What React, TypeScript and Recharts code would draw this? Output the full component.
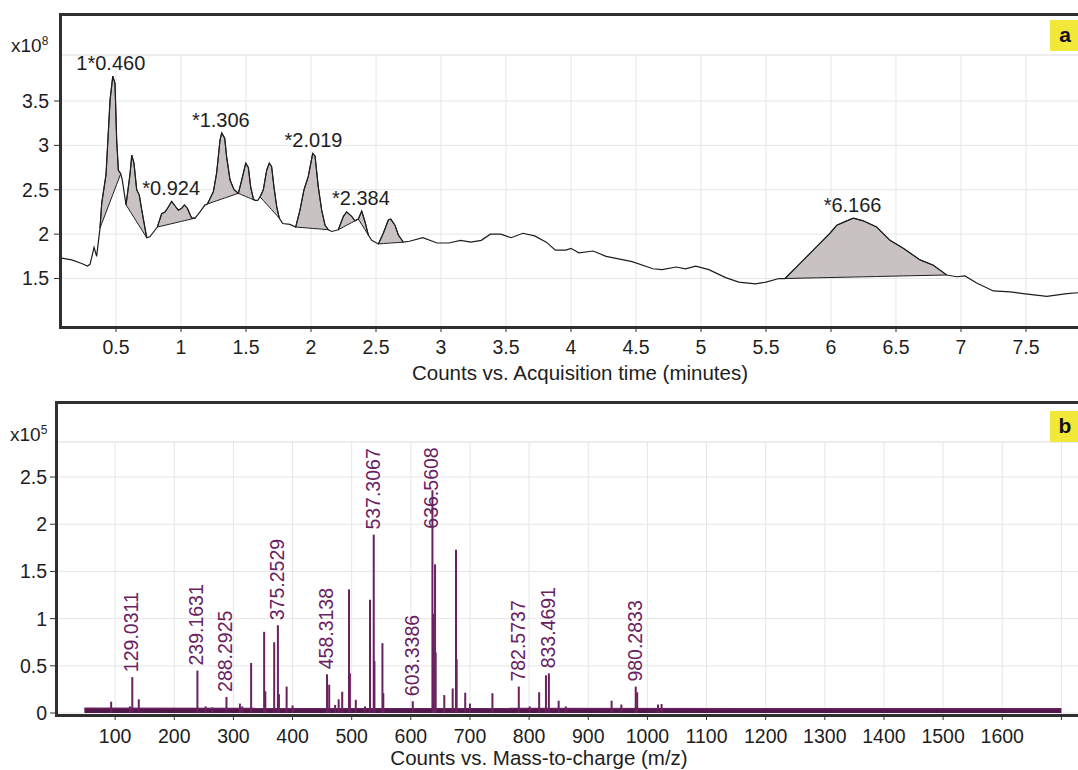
import React from "react"
import {
  ComposedChart,
  Line,
  Area,
  Bar,
  Scatter,
  XAxis,
  YAxis,
  CartesianGrid,
  ReferenceLine,
} from "recharts"

const FONT = '"Liberation Sans", Arial, Helvetica, sans-serif'
const INK = "#1e1e1e"
const FRAME = "#2f2f2f"
const GRID = "#e6e6e6"
const PEAK_FILL = "#c8c2c2"
const PURPLE = "#6a215f"
const NOISE = "#521849"

// (a) total ion chromatogram, time in minutes, counts x10^8
const ticTime = [
  0.069, 0.082, 0.159, 0.236, 0.28, 0.3, 0.331, 0.351, 0.377, 0.39, 0.423, 0.454, 0.475, 0.492, 0.505,
  0.518, 0.536, 0.548, 0.577, 0.608, 0.621, 0.638, 0.659, 0.679, 0.698, 0.736, 0.76, 0.818, 0.851,
  0.877, 0.9, 0.928, 0.953, 0.979, 1.005, 1.026, 1.049, 1.082, 1.108, 1.146, 1.185, 1.203, 1.249,
  1.274, 1.3, 1.313, 1.336, 1.351, 1.377, 1.408, 1.441, 1.467, 1.498, 1.518, 1.536, 1.556, 1.569,
  1.59, 1.608, 1.633, 1.659, 1.679, 1.697, 1.715, 1.736, 1.756, 1.782, 1.838, 1.882, 1.915, 1.946,
  1.979, 2.013, 2.031, 2.056, 2.082, 2.108, 2.133, 2.159, 2.21, 2.249, 2.274, 2.313, 2.338, 2.364,
  2.39, 2.415, 2.441, 2.467, 2.518, 2.556, 2.595, 2.613, 2.646, 2.672, 2.71, 2.757, 2.86, 2.97, 3.06,
  3.15, 3.23, 3.31, 3.38, 3.46, 3.54, 3.63, 3.72, 3.81, 3.88, 3.96, 4.0, 4.06, 4.17, 4.27, 4.47, 4.63,
  4.7, 4.81, 4.88, 4.96, 5.06, 5.19, 5.29, 5.42, 5.5, 5.6, 5.646, 5.762, 5.89, 5.992, 6.044, 6.121,
  6.172, 6.248, 6.351, 6.454, 6.556, 6.685, 6.787, 6.89, 6.967, 7.031, 7.12, 7.249, 7.377, 7.479,
  7.66, 7.815, 7.9, 8.077,
]
const ticCounts = [
  1.73, 1.73, 1.71, 1.67, 1.64, 1.66, 1.85, 1.75, 2.07, 2.35, 2.67, 3.51, 3.78, 3.7, 3.06,
  2.72, 2.68, 2.61, 2.33, 2.68, 2.89, 2.8, 2.5, 2.44, 2.27, 1.96, 1.97, 2.08, 2.23,
  2.25, 2.3, 2.37, 2.32, 2.27, 2.29, 2.33, 2.29, 2.18, 2.18, 2.25, 2.33, 2.34, 2.48,
  2.69, 3.06, 3.14, 3.08, 2.87, 2.61, 2.5, 2.46, 2.61, 2.8, 2.75, 2.53, 2.4, 2.38,
  2.38, 2.42, 2.5, 2.72, 2.8, 2.76, 2.53, 2.31, 2.18, 2.12, 2.11, 2.08, 2.27, 2.5,
  2.65, 2.91, 2.88, 2.53, 2.27, 2.1, 2.05, 2.03, 2.05, 2.2, 2.25, 2.2, 2.15, 2.17,
  2.26, 2.14, 1.99, 1.93, 1.89, 2.01, 2.16, 2.17, 2.1, 1.99, 1.91, 1.92, 1.96, 1.9, 1.9,
  1.93, 1.91, 1.93, 2.0, 2.0, 1.96, 2.01, 1.98, 1.91, 1.82, 1.82, 1.84, 1.79, 1.81, 1.75, 1.69, 1.61,
  1.6, 1.63, 1.61, 1.64, 1.6, 1.51, 1.46, 1.44, 1.46, 1.5, 1.5, 1.67, 1.86, 2.01, 2.1, 2.15,
  2.18, 2.15, 2.08, 1.93, 1.84, 1.71, 1.65, 1.54, 1.52, 1.53, 1.45, 1.36, 1.35, 1.33,
  1.3, 1.33, 1.34, 1.36,
]

// integrated (shaded) regions: start and end time of each
const peakStart = [0.377, 0.577, 0.818, 1.203, 1.441, 1.608, 1.882, 2.21, 2.364, 2.518, 5.646]
const peakEnd = [0.536, 0.736, 1.108, 1.441, 1.569, 1.756, 2.133, 2.364, 2.441, 2.71, 6.89]

const ticLabels = ["1*0.460", "*0.924", "*1.306", "*2.019", "*2.384", "*6.166"]
const ticLabelTime = [0.46, 0.924, 1.306, 2.019, 2.384, 6.166]

const timeTicks = [0.5, 1, 1.5, 2, 2.5, 3, 3.5, 4, 4.5, 5, 5.5, 6, 6.5, 7, 7.5]
const countTicks = [1.5, 2, 2.5, 3, 3.5]
const timeDomain = [0.069, 8.077]
const countDomain = [0.954, 4.018]

// (b) mass spectrum, m/z and counts x10^5
const specMz = [
  93.3, 125, 129.0311, 140, 239.1631, 253, 264.5, 288.2925, 311, 315, 330, 352, 354, 369, 375.2529,
  377, 390, 400, 458.3138, 462, 472, 478, 484, 495.5, 497, 507, 522.6, 531, 537.3067, 538.5, 552,
  553.5, 603.3386, 636.5608, 637.5, 641, 642, 656.6, 670.8, 676.4, 677.5, 692, 700, 738, 782.5737,
  801, 817, 828.5, 833.4691, 850, 862, 939.5, 956, 980.2833, 982.8, 1018, 1024,
]
const specInt = [
  0.12, 0.07, 0.38, 0.145, 0.45, 0.07, 0.06, 0.17, 0.1, 0.07, 0.53, 0.86, 0.23, 0.75, 0.93,
  0.2, 0.28, 0.08, 0.41, 0.3, 0.085, 0.145, 0.225, 1.31, 0.42, 0.14, 0.07, 1.2, 1.89, 0.55, 0.74,
  0.21, 0.125, 2.36, 1.05, 1.575, 0.64, 0.19, 0.26, 1.73, 0.57, 0.215, 0.1, 0.21, 0.28,
  0.07, 0.22, 0.4, 0.42, 0.13, 0.07, 0.13, 0.09, 0.28, 0.22, 0.09, 0.095,
]
const labeledMz = [
  129.0311, 239.1631, 288.2925, 375.2529, 458.3138, 537.3067, 603.3386, 636.5608, 782.5737,
  833.4691, 980.2833,
]
// baseline noise band
const noiseMz = [48, 1700]
const noiseLevel = [0.05, 0.045]

const mzTicks = [100, 200, 300, 400, 500, 600, 700, 800, 900, 1000, 1100, 1200, 1300, 1400, 1500, 1600, 1700]
const intTicks = [0, 0.5, 1, 1.5, 2, 2.5]
const mzDomain = [0, 1767]
const intDomain = [-0.021, 2.871]
const LABEL_CAP = 1.9

const countAt = (t: number) => ticCounts[ticTime.indexOf(t)]

const ticData = ticTime.map((t, i) => {
  const row: Record<string, number | number[]> = { t, counts: ticCounts[i] }
  peakStart.forEach((s, k) => {
    const e = peakEnd[k]
    if (t < s || t > e) return
    const b0 = countAt(s)
    const b1 = countAt(e)
    row[`peak${k}`] = [b0 + ((b1 - b0) * (t - s)) / (e - s), ticCounts[i]]
  })
  return row
})

const ticLabelData = ticLabels.map((text, i) => {
  const at = ticLabelTime[i]
  const top = Math.max(...ticTime.map((t, j) => (Math.abs(t - at) <= 0.03 ? ticCounts[j] : -Infinity)))
  return { t: at, top, text }
})

const specData = [
  ...noiseMz.map((mz, i) => ({ mz, noise: noiseLevel[i] })),
  ...specMz.map((mz, i) => ({ mz, intensity: specInt[i] })),
].sort((a, b) => a.mz - b.mz)

const specLabelData = labeledMz.map((mz) => ({
  mz,
  at: Math.min(specInt[specMz.indexOf(mz)], LABEL_CAP),
}))

const tickStyle = { fill: INK, fontSize: 19.5, fontFamily: FONT }

// a 2px stick centred on the bar position, whatever width Recharts picked
function Stick(p: any) {
  if (!Number.isFinite(p.height) || p.height <= 0) return null
  return <rect x={p.x + p.width / 2 - 1} y={p.y} width={2} height={p.height} fill={PURPLE} />
}

function PanelTag({ letter, top }: { letter: string; top: number }) {
  return (
    <div
      style={{
        position: "absolute",
        left: 1050,
        top,
        width: 30,
        height: 31,
        background: "#f1e83a",
        fontFamily: FONT,
        fontWeight: "bold",
        fontSize: 21,
        lineHeight: "29px",
        textAlign: "center",
        color: "#111",
      }}
    >
      {letter}
    </div>
  )
}

function Multiplier({ exp, left, top }: { exp: string; left: number; top: number }) {
  return (
    <div style={{ position: "absolute", left, top, fontFamily: FONT, fontSize: 19, lineHeight: "19px", color: INK }}>
      x10<span style={{ fontSize: 12, verticalAlign: "7px" }}>{exp}</span>
    </div>
  )
}

function Frame({ left, top, height }: { left: number; top: number; height: number }) {
  return (
    <div
      style={{
        position: "absolute",
        left,
        top,
        width: 1101 - left,
        height,
        boxSizing: "border-box",
        borderTop: `3px solid ${FRAME}`,
        borderLeft: `3px solid ${FRAME}`,
        borderBottom: `3px solid ${FRAME}`,
        pointerEvents: "none",
      }}
    />
  )
}

function AxisTitle({ text, center, top }: { text: string; center: number; top: number }) {
  return (
    <div
      style={{
        position: "absolute",
        left: center - 300,
        top,
        width: 600,
        textAlign: "center",
        fontFamily: FONT,
        fontSize: 20.5,
        lineHeight: "20px",
        color: INK,
      }}
    >
      {text}
    </div>
  )
}

export default function App() {
  return (
    <div
      style={{
        position: "absolute",
        left: 0,
        top: 0,
        width: 1078,
        height: 770,
        overflow: "hidden",
        background: "#fff",
      }}
    >
      <div style={{ position: "absolute", left: 0, top: 0 }}>
        <ComposedChart width={1101} height={390} data={ticData} margin={{ top: 55, right: 0, bottom: 23, left: 0 }}>
          <CartesianGrid stroke={GRID} />
          <ReferenceLine y={countDomain[1]} stroke={GRID} />
          <XAxis
            type="number"
            dataKey="t"
            domain={timeDomain}
            ticks={timeTicks}
            interval={0}
            allowDataOverflow
            height={40}
            axisLine={false}
            tickSize={5}
            tickMargin={8}
            tickLine={{ stroke: FRAME }}
            tick={tickStyle}
          />
          <YAxis
            type="number"
            domain={countDomain}
            ticks={countTicks}
            interval={0}
            allowDataOverflow
            width={60}
            axisLine={false}
            tickSize={6}
            tickMargin={5}
            tickLine={{ stroke: FRAME }}
            tick={tickStyle}
          />
          {peakStart.map((_, k) => (
            <Area
              key={k}
              type="linear"
              dataKey={`peak${k}`}
              stroke={INK}
              strokeWidth={1}
              fill={PEAK_FILL}
              fillOpacity={1}
              isAnimationActive={false}
            />
          ))}
          <Line type="linear" dataKey="counts" stroke={INK} strokeWidth={1.2} dot={false} isAnimationActive={false} />
          <Scatter
            data={ticLabelData}
            dataKey="top"
            isAnimationActive={false}
            shape={(p: any) => (
              <text x={p.cx} y={p.cy - 6} textAnchor="middle" fontSize={20} fontFamily={FONT} fill={INK}>
                {p.payload.text}
              </text>
            )}
          />
        </ComposedChart>
      </div>

      <div style={{ position: "absolute", left: 0, top: 390 }}>
        <ComposedChart width={1101} height={380} data={specData} margin={{ top: 52, right: 0, bottom: 15, left: 0 }}>
          <CartesianGrid stroke={GRID} />
          <ReferenceLine y={intDomain[1]} stroke={GRID} />
          <XAxis
            type="number"
            dataKey="mz"
            domain={mzDomain}
            ticks={mzTicks}
            interval={0}
            allowDataOverflow
            height={40}
            axisLine={false}
            tickSize={5}
            tickMargin={9}
            tickLine={{ stroke: FRAME }}
            tick={tickStyle}
            tickFormatter={(v: number) => (v === 1700 ? "" : String(v))}
          />
          <YAxis
            type="number"
            domain={intDomain}
            ticks={intTicks}
            interval={0}
            allowDataOverflow
            width={56}
            axisLine={false}
            tickSize={6}
            tickMargin={3}
            tickLine={{ stroke: FRAME }}
            tick={tickStyle}
          />
          <Area
            type="linear"
            dataKey="noise"
            connectNulls
            stroke={PURPLE}
            strokeWidth={1.5}
            fill={NOISE}
            fillOpacity={1}
            isAnimationActive={false}
          />
          <Bar dataKey="intensity" barSize={2} fill={PURPLE} shape={Stick} isAnimationActive={false} />
          <Scatter
            data={specLabelData}
            dataKey="at"
            isAnimationActive={false}
            shape={(p: any) => (
              <text
                transform={`translate(${p.cx + 6}, ${p.cy - 5}) rotate(-90)`}
                fontSize={19.5}
                fontFamily={FONT}
                fill={PURPLE}
              >
                {p.payload.mz.toFixed(4)}
              </text>
            )}
          />
        </ComposedChart>
      </div>

      <Frame left={59} top={13} height={316} />
      <Frame left={55} top={401} height={316} />
      <Multiplier exp="8" left={11} top={32} />
      <Multiplier exp="5" left={10} top={421} />
      <PanelTag letter="a" top={20} />
      <PanelTag letter="b" top={411} />
      <AxisTitle text="Counts vs. Acquisition time (minutes)" center={580} top={363} />
      <AxisTitle text="Counts vs. Mass-to-charge (m/z)" center={539} top={748} />
    </div>
  )
}
